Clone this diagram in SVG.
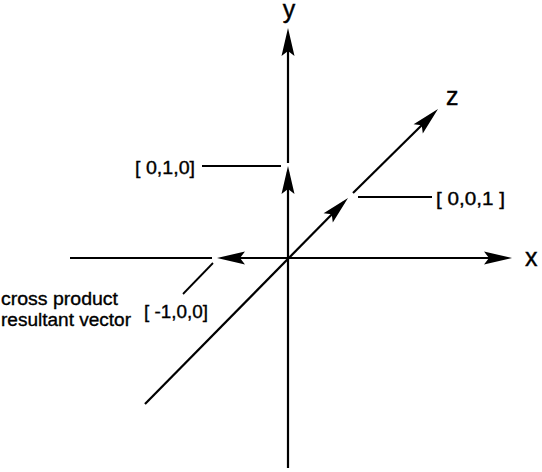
<svg xmlns="http://www.w3.org/2000/svg" xmlns:xlink="http://www.w3.org/1999/xlink" width="542" height="472" viewBox="0 0 542 472">
<style>
.ax{stroke:#000;stroke-width:2.2;fill:none}
.ld{stroke:#000;stroke-width:1.8;fill:none}
.ah{fill:#000;stroke:none}
.t{font-family:"Liberation Sans",Arial,sans-serif;fill:#000;stroke:#000;stroke-width:0.35;font-size:18px}
.big{font-family:"Liberation Sans",Arial,sans-serif;fill:#000;stroke:#000;stroke-width:0.4;font-size:25px}
</style>
<defs>
<path id="ah" d="M0,0 L-28,-6.5 L-23,0 L-28,6.5 Z"/>
</defs>
<rect width="542" height="472" fill="#fff"/>
<g id="connectors">
<line class="ax" x1="288" y1="468" x2="288" y2="172"/>
<line class="ax" x1="288" y1="163" x2="288" y2="50"/>
<line class="ax" x1="70" y1="258" x2="212" y2="258"/>
<line class="ax" x1="222" y1="258" x2="492" y2="258"/>
<line class="ax" x1="145" y1="404" x2="344" y2="202"/>
<line class="ax" x1="353" y1="193" x2="424" y2="123"/>
<use class="ah" xlink:href="#ah" transform="translate(288,28) rotate(-90)"/>
<use class="ah" xlink:href="#ah" transform="translate(288,166) rotate(-90)"/>
<use class="ah" xlink:href="#ah" transform="translate(512,258)"/>
<use class="ah" xlink:href="#ah" transform="translate(217,258) rotate(180)"/>
<use class="ah" xlink:href="#ah" transform="translate(438,109) rotate(-45)"/>
<use class="ah" xlink:href="#ah" transform="translate(348,198) rotate(-45)"/>
<line class="ld" x1="202" y1="166" x2="281" y2="166"/>
<line class="ld" x1="358" y1="197" x2="432" y2="197"/>
<line class="ld" x1="213" y1="263" x2="183" y2="294"/>
</g>
<g id="label-y"><text class="big" x="289" y="18" text-anchor="middle">y</text></g>
<g id="label-z"><text class="big" x="446" y="105">z</text></g>
<g id="label-x"><text class="big" x="525" y="266">x</text></g>
<g id="label-010"><text class="t" x="135" y="174" textLength="60" lengthAdjust="spacingAndGlyphs">[ 0,1,0]</text></g>
<g id="label-001"><text class="t" x="436" y="205" textLength="69" lengthAdjust="spacingAndGlyphs">[ 0,0,1 ]</text></g>
<g id="label-m100"><text class="t" x="144" y="318" textLength="64" lengthAdjust="spacingAndGlyphs">[ -1,0,0]</text></g>
<g id="label-cross">
<text class="t" x="1" y="305" textLength="117" lengthAdjust="spacingAndGlyphs">cross product</text>
<text class="t" x="1" y="326" textLength="130" lengthAdjust="spacingAndGlyphs">resultant vector</text>
</g>
</svg>
